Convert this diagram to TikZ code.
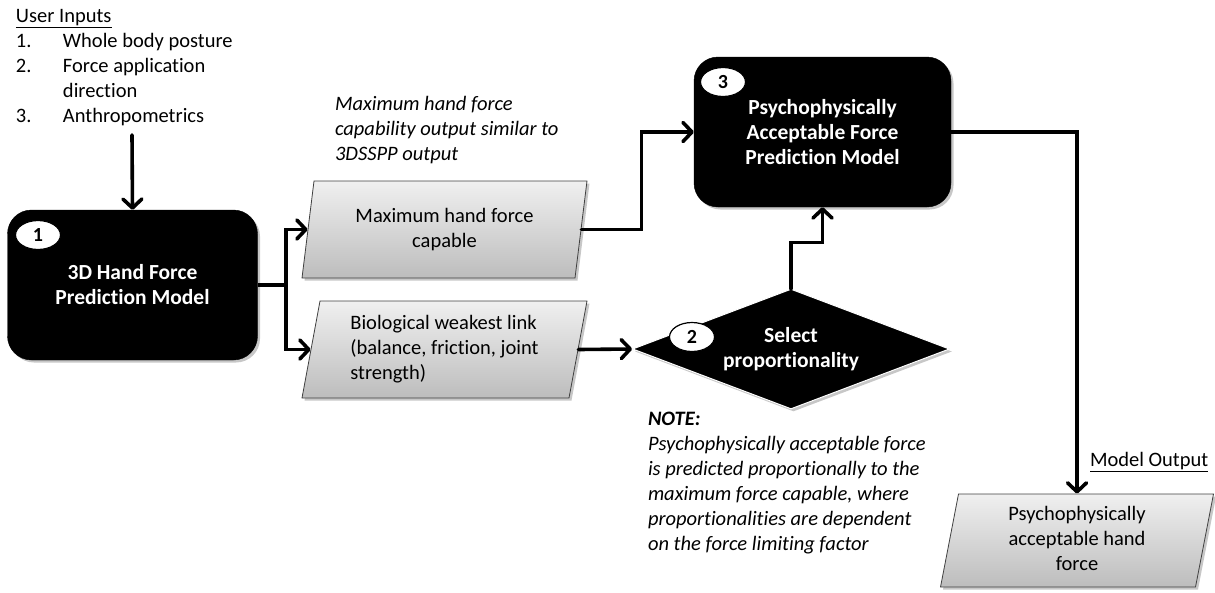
\documentclass[tikz,border=0pt]{standalone}
\usepackage{fontspec}
\setmainfont{Carlito}[Ligatures={NoCommon,NoContextual}, RawFeature={-liga;-clig}]
\usetikzlibrary{shapes.geometric,arrows.meta,shadows}

\begin{document}
\begin{tikzpicture}[x=1pt,y=-1pt,
  body/.style={font=\fontsize{20.5}{25}\selectfont},
  plain/.style={body, inner sep=0pt, outer sep=0pt},
  softshadow/.style={drop shadow={shadow xshift=2.5pt, shadow yshift=-2.5pt, fill=black, opacity=0.22}},
  model/.style={rectangle, rounded corners=24pt, fill=black, draw=black,
    minimum width=250pt, minimum height=150pt, text=white, align=center,
    font=\fontsize{21.5}{25}\selectfont\bfseries, softshadow},
  databox/.style={trapezium, trapezium left angle=76.5, trapezium right angle=103.5,
    trapezium stretches body, draw=black!75, line width=0.8pt,
    top color=black!6, bottom color=black!26, minimum width=285pt,
    minimum height=97pt, inner sep=0pt, body, softshadow},
  decide/.style={diamond, aspect=2.64, fill=black, draw=white, line width=1pt,
    minimum width=317pt, minimum height=120pt, inner sep=0pt, text=white,
    align=center, font=\fontsize{21.5}{25}\selectfont\bfseries, softshadow},
  stepnum/.style={ellipse, fill=white, draw=black, line width=1.2pt,
    minimum width=45pt, minimum height=29pt, inner sep=0pt,
    font=\fontsize{20}{20}\selectfont\bfseries},
  flow/.style={line width=3.6pt, line cap=round,
    -{Straight Barb[length=9pt,width=19pt,line cap=round,line join=round]}},
  link/.style={line width=3.6pt}
]
\useasboundingbox (0,0) rectangle (1215,592);

% inputs and the first model
\node[plain, anchor=base west] (inputs) at (16,22.5) {%
  \begin{tabular}[t]{@{}p{47pt}@{}l@{}}
  \multicolumn{2}{@{}l@{}}{\underline{User Inputs}}\\
  1. & Whole body posture\\
  2. & Force application\\
     & direction\\
  3. & Anthropometrics
  \end{tabular}};
\coordinate (inputs-out) at (132,135);

\node[model] (m1) at (132.5,285) {3D Hand Force\\Prediction Model};
\node[stepnum] (n1) at (38,235) {1};

% outputs of the first model
\node[databox] (maxf) at (444.5,229.5) {\begin{tabular}{@{}c@{}}Maximum hand force\\capable\end{tabular}};
\node[databox] (weak) at (444.5,349.5) {\begin{tabular}{@{}l@{}}Biological weakest link\\(balance, friction, joint\\strength)\end{tabular}};

\node[plain, anchor=base west, font=\fontsize{20.5}{25}\selectfont\itshape] (maxnote) at (335,110.5) {%
  \begin{tabular}[t]{@{}l@{}}Maximum hand force\\capability output similar to\\3DSSPP output\end{tabular}};

% proportionality decision
\node[decide] (sel) at (791,349) {Select\\proportionality};
\node[stepnum] (n2) at (692,337) {2};

\node[plain, anchor=base west, font=\fontsize{20.5}{25}\selectfont\itshape] (note) at (648,425.5) {%
  \begin{tabular}[t]{@{}l@{}}\textbf{NOTE:}\\Psychophysically acceptable force\\is predicted proportionally to the\\maximum force capable, where\\proportionalities are dependent\\on the force limiting factor\end{tabular}};

% psychophysical model and its output
\node[model, minimum width=257pt] (m3) at (822.5,132) {Psychophysically\\Acceptable Force\\Prediction Model};
\node[stepnum] (n3) at (723,82) {3};

\node[databox, minimum width=273pt, minimum height=93pt] (out) at (1077,540.5) {\begin{tabular}{@{}c@{}}\rule{0pt}{6pt}Psychophysically\\acceptable hand\\force\end{tabular}};
\node[plain, anchor=base west] (outlabel) at (1090,466.5) {\underline{Model Output}};

% connectors
\draw[flow] (inputs-out) -- (m1.north);
\draw[link] (m1.east) -- ++(28,0) coordinate (split);
\draw[flow] (split) |- (maxf.west);
\draw[flow] (split) |- (weak.west);
\draw[flow] (maxf.east) -- ++(60,0) |- (m3.west);
\draw[flow] (weak.east) -- (sel.west);
\draw[flow] (sel.north) -- ++(0,-46) -| (m3.south);
\draw[flow] (m3.east) -| (out.north);
\end{tikzpicture}
\end{document}
